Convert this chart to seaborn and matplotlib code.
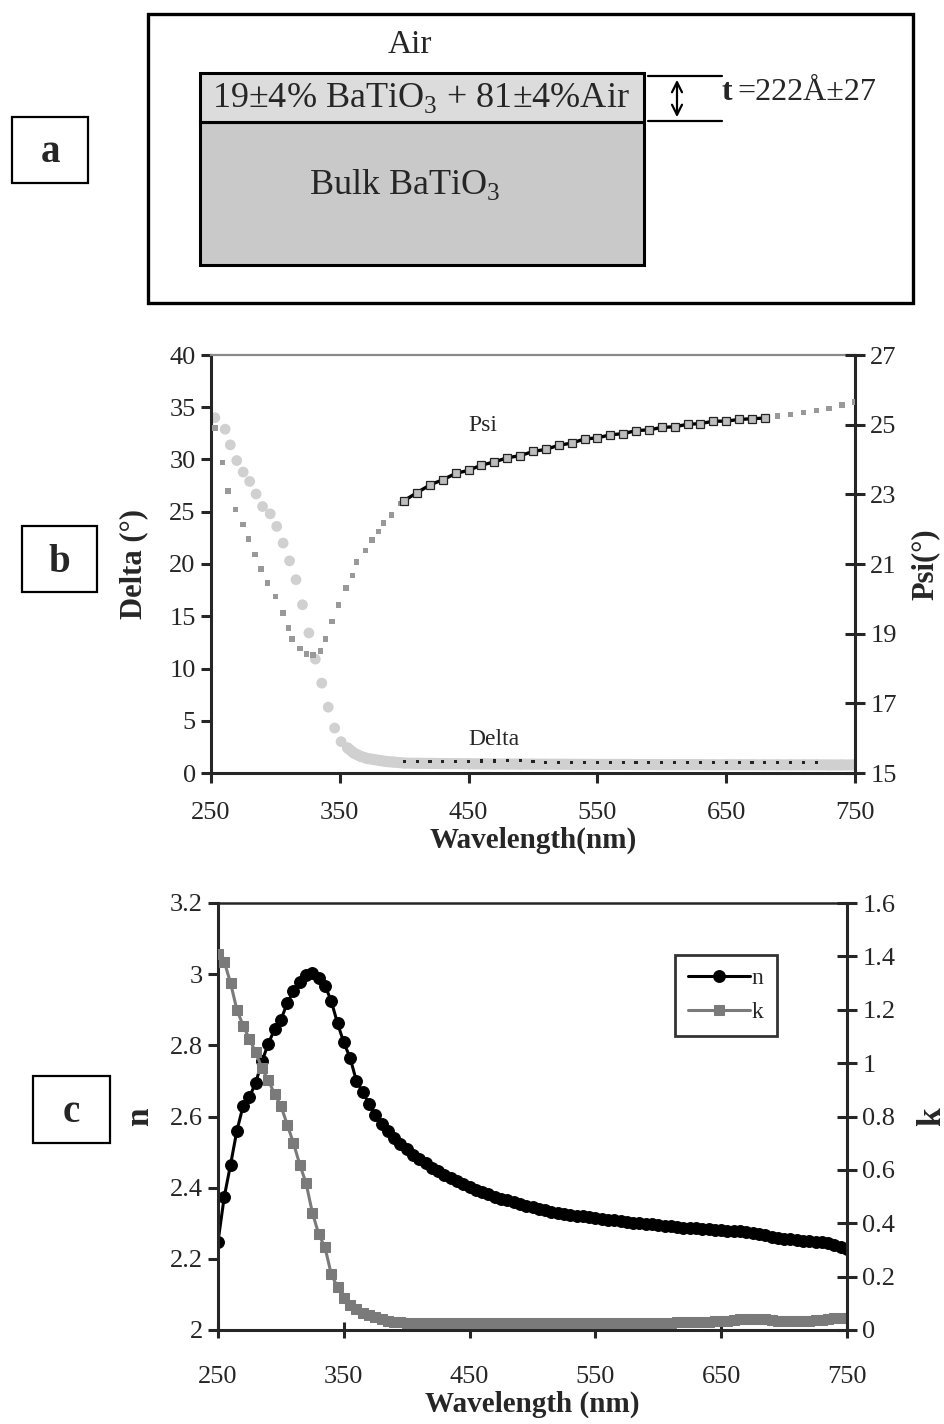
import numpy as np
import pandas as pd
import matplotlib
matplotlib.use('Agg')
import matplotlib.pyplot as plt
import seaborn as sns
from matplotlib.patches import Rectangle

# ---- panel b: ellipsometric angles (Delta on left axis, Psi on right axis) ----
delta_fit_wl = [253, 261, 265, 270, 275, 280, 285, 290, 296, 301, 306, 311, 316, 321,
                326, 331, 336, 341, 346, 351, 356, 361, 366, 371, 376, 381, 386, 391, 396,
                400, 410, 420, 430, 440, 450, 460, 470, 480, 490, 500, 510, 520, 530,
                540, 550, 560, 570, 580, 590, 600, 610, 620, 630, 640, 650, 660, 670,
                680, 690, 700, 710, 720, 730, 740, 750]
delta_fit = [34.0, 32.9, 31.4, 29.9, 28.8, 27.9, 26.7, 25.5, 24.8, 23.6, 22.0, 20.3, 18.5, 16.1,
             13.4, 10.9, 8.6, 6.3, 4.3, 3.0, 2.4, 1.9, 1.6, 1.4, 1.3, 1.2, 1.1, 1.05, 1.0,
             0.95, 0.93, 0.92, 0.9, 0.9, 0.88, 0.88, 0.86, 0.86, 0.85, 0.85, 0.84, 0.84, 0.83,
             0.83, 0.82, 0.82, 0.82, 0.81, 0.81, 0.8, 0.8, 0.8, 0.8, 0.79, 0.79, 0.79, 0.79,
             0.78, 0.78, 0.78, 0.78, 0.78, 0.77, 0.77, 0.77]

delta_meas_wl = [400, 410, 420, 430, 440, 450, 460, 470, 480, 490, 500, 510, 520, 530, 540,
                 550, 560, 570, 580, 590, 600, 610, 620, 630, 640, 650, 660, 670, 680, 690,
                 700, 710, 720]
delta_meas = [1.1, 1.1, 1.1, 1.1, 1.1, 1.1, 1.15, 1.15, 1.2, 1.2, 1.1, 1.0, 1.0, 1.0, 1.0,
              1.0, 1.0, 1.0, 1.0, 1.0, 1.0, 1.0, 1.0, 1.0, 1.0, 1.0, 1.0, 1.0, 1.0, 1.0,
              1.0, 1.0, 1.0]

psi_fit_wl = [253, 259, 263, 269, 275, 279, 284, 289, 294, 300, 306, 310, 313, 319, 324,
              329, 335, 339, 344, 349, 355, 360, 363, 370, 375, 380, 384, 390, 397,
              400, 410, 420, 430, 440, 450, 460, 470, 480, 490, 500, 510, 520, 530,
              540, 550, 560, 570, 580, 590, 600, 610, 620, 630, 640, 650, 660, 670,
              680, 690, 700, 710, 720, 730, 740, 750]
psi_fit = [24.90, 23.91, 23.10, 22.56, 22.14, 21.72, 21.27, 20.85, 20.46, 20.07, 19.59, 19.17,
           18.84, 18.57, 18.42, 18.39, 18.51, 18.84, 19.35, 19.83, 20.31, 20.67, 21.06, 21.39,
           21.69, 21.93, 22.17, 22.41, 22.74,
           22.80, 23.07, 23.25, 23.43, 23.58, 23.70, 23.82, 23.94, 24.03, 24.12, 24.21, 24.30,
           24.39, 24.48, 24.57, 24.63, 24.69, 24.75, 24.81, 24.86, 24.90, 24.95, 24.99, 25.04,
           25.08, 25.11, 25.14, 25.17, 25.20, 25.25, 25.29, 25.35, 25.41, 25.47, 25.56, 25.65]

psi_meas_wl = [400, 410, 420, 430, 440, 450, 460, 470, 480, 490, 500, 510, 520, 530, 540,
               550, 560, 570, 580, 590, 600, 610, 620, 630, 640, 650, 660, 670, 680]
psi_meas = [22.82, 23.05, 23.27, 23.42, 23.60, 23.69, 23.84, 23.93, 24.05, 24.11, 24.23, 24.29,
            24.41, 24.47, 24.59, 24.62, 24.71, 24.74, 24.83, 24.85, 24.92, 24.94, 25.01, 25.03,
            25.10, 25.10, 25.15, 25.17, 25.19]

# ---- panel c: optical constants n, k ----
nk_wl = list(range(250, 751, 5))
n_vals = [2.248, 2.375, 2.465, 2.560, 2.630, 2.655, 2.695, 2.755, 2.805, 2.845,
          2.872, 2.918, 2.952, 2.978, 2.998, 3.002, 2.988, 2.968, 2.925, 2.862,
          2.808, 2.765, 2.700, 2.670, 2.635, 2.605, 2.580, 2.560, 2.540, 2.524,
          2.508, 2.493, 2.480, 2.468, 2.456, 2.446, 2.436, 2.427, 2.418, 2.409,
          2.401, 2.394, 2.387, 2.381, 2.375, 2.369, 2.364, 2.359, 2.354, 2.349,
          2.345, 2.341, 2.337, 2.333, 2.330, 2.327, 2.324, 2.321, 2.319, 2.317,
          2.315, 2.312, 2.310, 2.308, 2.306, 2.304, 2.302, 2.300, 2.299, 2.297,
          2.295, 2.293, 2.291, 2.290, 2.288, 2.287, 2.286, 2.284, 2.283, 2.282,
          2.281, 2.279, 2.278, 2.277, 2.276, 2.273, 2.270, 2.266, 2.262, 2.259,
          2.257, 2.255, 2.253, 2.251, 2.249, 2.247, 2.246, 2.244, 2.240, 2.234,
          2.229]
k_vals = [1.41, 1.38, 1.30, 1.20, 1.14, 1.09, 1.04, 0.98, 0.935, 0.885,
          0.84, 0.77, 0.70, 0.62, 0.55, 0.44, 0.36, 0.31, 0.21, 0.16,
          0.12, 0.095, 0.078, 0.065, 0.055, 0.048, 0.040, 0.035, 0.031, 0.029,
          0.028, 0.028, 0.027, 0.027, 0.027, 0.027, 0.026, 0.026, 0.026, 0.026,
          0.026, 0.025, 0.025, 0.025, 0.025, 0.025, 0.025, 0.025, 0.025, 0.025,
          0.025, 0.025, 0.025, 0.025, 0.026, 0.026, 0.026, 0.026, 0.026, 0.027,
          0.027, 0.027, 0.027, 0.027, 0.027, 0.027, 0.027, 0.027, 0.028, 0.028,
          0.028, 0.028, 0.028, 0.029, 0.029, 0.030, 0.030, 0.030, 0.031, 0.032,
          0.032, 0.034, 0.038, 0.040, 0.040, 0.041, 0.040, 0.040, 0.036, 0.034,
          0.032, 0.032, 0.033, 0.034, 0.034, 0.036, 0.038, 0.042, 0.045, 0.046,
          0.046]

wl_ticks = [250, 350, 450, 550, 650, 750]

sns.set_style('ticks')
plt.rcParams['font.family'] = ['Liberation Serif', 'DejaVu Serif']
plt.rcParams['mathtext.fontset'] = 'custom'
plt.rcParams['mathtext.rm'] = 'Liberation Serif'

fig = plt.figure(figsize=(9.45, 14.24), dpi=100)

# overlay in pixel coordinates for the layer sketch and panel tags
ov = fig.add_axes([0, 0, 1, 1])
ov.set_xlim(0, 945)
ov.set_ylim(1424, 0)
ov.axis('off')

# panel a: layer model
ov.add_patch(Rectangle((148, 14), 765, 289, fill=False, lw=2.4, ec='black'))
ov.add_patch(Rectangle((200, 122), 444, 143, fc='#c9c9c9', ec='black', lw=2.2))
ov.add_patch(Rectangle((200, 73), 444, 49, fc='#dcdcdc', ec='black', lw=2.2))
ov.text(410, 45, 'Air', fontsize=24, ha='center', va='center')
ov.text(421, 98, r'19±4% BaTiO$_3$ + 81±4%Air', fontsize=26, ha='center', va='center')
ov.text(405, 185, r'Bulk BaTiO$_3$', fontsize=26, ha='center', va='center')
ov.plot([648, 722], [76, 76], color='black', lw=1.6)
ov.plot([648, 722], [121, 121], color='black', lw=1.6)
ov.annotate('', xy=(677, 77), xytext=(677, 120),
            arrowprops=dict(arrowstyle='<->', lw=1.6, color='black', mutation_scale=18))
ov.text(722, 92, 't', fontsize=23, fontweight='bold', ha='left', va='center')
ov.text(737, 92, '=222Å±27', fontsize=23, ha='left', va='center')

# panel tags
for (x0, y0, w, h, tag) in [(12, 117, 76, 66, 'a'), (22, 526, 75, 66, 'b'), (33, 1076, 77, 67, 'c')]:
    ov.add_patch(Rectangle((x0, y0), w, h, fill=False, lw=1.6, ec='black'))
    ov.text(x0 + w / 2, y0 + h / 2 + 3, tag, fontsize=28, fontweight='bold',
            ha='center', va='center')

# ---- panel b ----
axb = fig.add_axes([211 / 945, 1 - 773 / 1424, 644 / 945, 418 / 1424])
axb2 = axb.twinx()

sns.scatterplot(x=delta_fit_wl, y=delta_fit, ax=axb, marker='o', s=60,
                color='#d0d0d0', edgecolor='none', zorder=2)
band = [(w, d) for w, d in zip(delta_fit_wl, delta_fit) if w >= 356]
sns.lineplot(x=[b[0] for b in band], y=[b[1] for b in band], ax=axb,
             color='#d0d0d0', lw=8, zorder=2)
sns.scatterplot(x=delta_meas_wl, y=delta_meas, ax=axb, marker='s', s=5,
                color='#222222', edgecolor='none', zorder=3)

sns.scatterplot(x=psi_fit_wl, y=psi_fit, ax=axb2, marker='s', s=16,
                color='#999999', edgecolor='none', zorder=3)
sns.lineplot(x=psi_meas_wl, y=psi_meas, ax=axb2, color='black', lw=2.4,
             marker='s', markersize=6, markerfacecolor='#bdbdbd',
             markeredgecolor='#222222', markeredgewidth=0.9, zorder=4)

axb.set_xlim(250, 750)
axb.set_ylim(0, 40)
axb.set_yticks(range(0, 41, 5))
axb.set_xticks(wl_ticks)
axb2.set_ylim(15, 27)
axb2.set_yticks(range(15, 28, 2))

axb.text(461, 33.3, 'Psi', fontsize=17, ha='center', va='center')
axb.text(470, 3.2, 'Delta', fontsize=17, ha='center', va='center')

axb.set_xlabel('Wavelength(nm)', fontsize=21, fontweight='bold')
axb.set_ylabel('Delta (°)', fontsize=22, fontweight='bold')
axb2.set_ylabel('Psi(°)', fontsize=22, fontweight='bold')
axb.xaxis.set_label_coords(0.5, -0.128)
axb.yaxis.set_label_coords(-0.097, 0.5)
axb2.yaxis.set_label_coords(1.086, 0.5)

for sp in ['left', 'bottom']:
    axb.spines[sp].set_linewidth(2.2)
axb.spines['top'].set_linewidth(1.6)
axb.spines['top'].set_color('#8a8a8a')
axb.spines['right'].set_visible(False)
for sp in ['left', 'bottom', 'top']:
    axb2.spines[sp].set_visible(False)
axb2.spines['right'].set_linewidth(2.2)
axb.tick_params(axis='y', direction='out', length=7, width=2.2, labelsize=19, pad=4)
axb.tick_params(axis='x', direction='out', length=7, width=2.2, labelsize=19, pad=14)
axb2.tick_params(axis='y', direction='inout', length=14, width=2.2, labelsize=19, pad=4)

# ---- panel c ----
axc = fig.add_axes([218 / 945, 1 - 1330 / 1424, 629 / 945, 427 / 1424])
axc2 = axc.twinx()

sns.lineplot(x=nk_wl, y=n_vals, ax=axc, color='black', lw=2.2, marker='o',
             markersize=8.5, markeredgecolor='black', label='n', legend=False)
sns.lineplot(x=nk_wl, y=k_vals, ax=axc2, color='#7a7a7a', lw=2.2, marker='s',
             markersize=6.5, markeredgecolor='#7a7a7a', label='k', legend=False)

axc.set_xlim(250, 750)
axc.set_ylim(2, 3.2)
axc.set_yticks([2, 2.2, 2.4, 2.6, 2.8, 3, 3.2])
axc.set_yticklabels(['2', '2.2', '2.4', '2.6', '2.8', '3', '3.2'])
axc.set_xticks(wl_ticks)
axc2.set_ylim(0, 1.6)
axc2.set_yticks([0, 0.2, 0.4, 0.6, 0.8, 1, 1.2, 1.4, 1.6])
axc2.set_yticklabels(['0', '0.2', '0.4', '0.6', '0.8', '1', '1.2', '1.4', '1.6'])

axc.set_xlabel('Wavelength (nm)', fontsize=21, fontweight='bold')
axc.set_ylabel('n', fontsize=24, fontweight='bold')
axc2.set_ylabel('k', fontsize=24, fontweight='bold')
axc.xaxis.set_label_coords(0.5, -0.143)
axc.yaxis.set_label_coords(-0.1, 0.5)
axc2.yaxis.set_label_coords(1.11, 0.5)

for sp in ['left', 'bottom']:
    axc.spines[sp].set_linewidth(2.2)
axc.spines['top'].set_linewidth(1.8)
axc.spines['right'].set_visible(False)
for sp in ['left', 'bottom', 'top']:
    axc2.spines[sp].set_visible(False)
axc2.spines['right'].set_linewidth(2.2)
axc.tick_params(axis='y', direction='out', length=7, width=2.2, labelsize=19, pad=4)
axc.tick_params(axis='x', direction='inout', length=12, width=2.2, labelsize=19, pad=20)
axc2.tick_params(axis='y', direction='inout', length=14, width=2.2, labelsize=19, pad=4)

handles = axc.get_lines()[:1] + axc2.get_lines()[:1]
leg = axc2.legend(handles, ['n', 'k'], loc='upper left', bbox_to_anchor=(0.708, 0.906),
                  fontsize=17, frameon=True, fancybox=False, edgecolor='black',
                  handlelength=2.6, handletextpad=0.1, borderpad=0.55, labelspacing=0.5)
leg.get_frame().set_linewidth(2)

fig.savefig('out.png', dpi=100, facecolor='white')
